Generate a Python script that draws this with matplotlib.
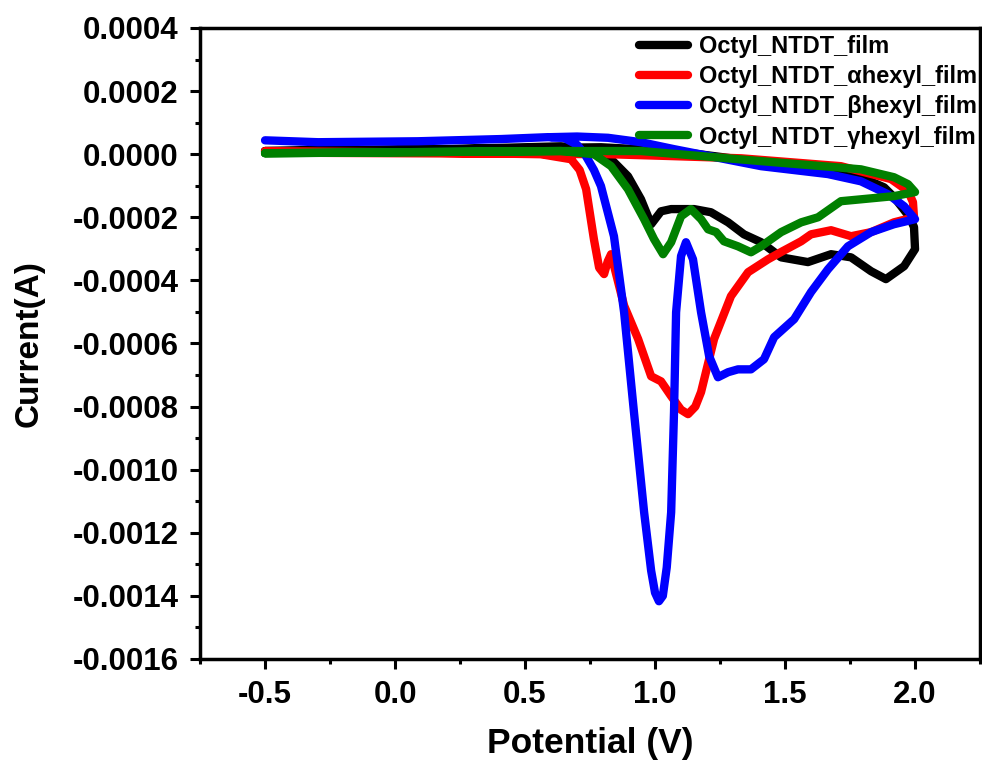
import matplotlib
matplotlib.use('Agg')
import matplotlib.pyplot as plt
from matplotlib.ticker import MultipleLocator, FormatStrFormatter

# CV loops: forward scan -0.5 -> 2.0 (with reduction peaks), then return branch back
E_black = [-0.5, 0.215, 0.638, 0.754, 0.831, 0.896, 0.946, 0.985, 1.023, 1.062, 1.15, 1.215,
           1.281, 1.342, 1.408, 1.485, 1.588, 1.677, 1.754, 1.831, 1.888, 1.958, 2.0, 1.996,
           1.977, 1.919, 1.881, 1.792, 1.665, 1.408, 1.073, 0.792, 0.2, -0.5]
I_black = [0.00001, 0.000016, 0.000025, 0.000016, -0.000016, -0.00007, -0.000143, -0.000222,
           -0.000181, -0.000174, -0.000174, -0.000184, -0.000216, -0.000254, -0.000279,
           -0.000327, -0.000342, -0.000317, -0.000327, -0.000371, -0.000396, -0.000355,
           -0.000301, -0.000231, -0.000197, -0.000136, -0.000105, -0.000073, -0.000054,
           -0.000025, 0.00001, 0.000022, 0.000016, 0.00001]

E_alpha = [-0.5, 0.023, 0.56, 0.677, 0.71, 0.735, 0.765, 0.785, 0.804, 0.818, 0.831, 0.881,
           0.935, 0.985, 1.023, 1.062, 1.1, 1.127, 1.155, 1.177, 1.227, 1.292, 1.358, 1.435,
           1.485, 1.562, 1.6, 1.677, 1.754, 1.831, 1.919, 1.996, 1.992, 1.973, 1.908, 1.715,
           1.331, 1.062, 0.819, -0.5]
I_alpha = [0.00001, 0.000006, 0.0, -0.000016, -0.00005, -0.000111, -0.00027, -0.00036,
           -0.00038, -0.00034, -0.000317, -0.00048, -0.000586, -0.000704, -0.00072,
           -0.000767, -0.00081, -0.000824, -0.0008, -0.000754, -0.000586, -0.00045,
           -0.000374, -0.000333, -0.00031, -0.000276, -0.000254, -0.000241, -0.00026,
           -0.000247, -0.000216, -0.0002, -0.000152, -0.000117, -0.000079, -0.000038,
           -0.000013, -0.000006, 0.0, 0.000005]

E_beta = [-0.5, -0.296, 0.088, 0.408, 0.588, 0.65, 0.7, 0.73, 0.765, 0.792, 0.842, 0.881,
          0.919, 0.958, 0.985, 1.0, 1.015, 1.03, 1.045, 1.062, 1.073, 1.081, 1.1, 1.119,
          1.146, 1.177, 1.208, 1.242, 1.281, 1.319, 1.369, 1.419, 1.458, 1.535, 1.6, 1.665,
          1.742, 1.831, 1.919, 2.0, 1.958, 1.896, 1.792, 1.665, 1.408, 1.073, 0.946, 0.819,
          0.7, 0.6]
I_beta = [0.000044, 0.000038, 0.000041, 0.000048, 0.000054, 0.000052, 0.00003, 0.0,
          -0.00005, -0.000101, -0.00026, -0.000501, -0.000818, -0.001135, -0.00132,
          -0.00139, -0.001417, -0.0014, -0.00131, -0.001135, -0.000818, -0.000501, -0.000323,
          -0.000279, -0.000333, -0.000501, -0.00064, -0.000707, -0.000691, -0.000682,
          -0.000682, -0.00065, -0.00058, -0.000523, -0.000437, -0.000365, -0.000292,
          -0.000247, -0.000222, -0.000206, -0.000165, -0.000127, -0.000086, -0.000063,
          -0.000038, 0.000016, 0.000038, 0.000052, 0.000056, 0.000054]

E_gamma = [-0.5, 0.638, 0.765, 0.831, 0.896, 0.958, 0.996, 1.031, 1.062, 1.1, 1.138, 1.177,
           1.204, 1.235, 1.265, 1.319, 1.369, 1.408, 1.485, 1.562, 1.627, 1.715, 1.792,
           1.919, 2.0, 1.973, 1.919, 1.792, 1.408, 0.946, 0.638, -0.5]
I_gamma = [0.000003, 0.00001, 0.0, -0.000038, -0.000111, -0.000206, -0.000269, -0.000317,
           -0.000279, -0.000197, -0.000174, -0.000206, -0.000238, -0.000247, -0.000276,
           -0.000292, -0.000311, -0.000292, -0.000247, -0.000216, -0.0002, -0.000149,
           -0.000143, -0.000133, -0.00012, -0.000095, -0.000073, -0.000048, -0.000022,
           0.00001, 0.00001, 0.000003]

labels = ['Octyl_NTDT_film', 'Octyl_NTDT_\u03b1hexyl_film',
          'Octyl_NTDT_\u03b2hexyl_film', 'Octyl_NTDT_\u03b3hexyl_film']
colors = ['black', 'red', 'blue', 'green']

plt.rcParams['font.family'] = ['Liberation Sans', 'DejaVu Sans']
plt.rcParams['font.weight'] = 'bold'
plt.rcParams['axes.unicode_minus'] = False

fig = plt.figure(figsize=(9.82, 7.65), dpi=100)
ax = fig.add_axes([0.2037, 0.1386, 0.7943, 0.8248])

for E, I, lab, col in zip([E_black, E_alpha, E_beta, E_gamma],
                          [I_black, I_alpha, I_beta, I_gamma], labels, colors):
    ax.plot(E, I, color=col, lw=6, label=lab, solid_joinstyle='round', solid_capstyle='round')

ax.set_xlim(-0.75, 2.25)
ax.set_ylim(-0.0016, 0.0004)
ax.xaxis.set_major_locator(MultipleLocator(0.5))
ax.xaxis.set_minor_locator(MultipleLocator(0.25))
ax.yaxis.set_major_locator(MultipleLocator(0.0002))
ax.yaxis.set_minor_locator(MultipleLocator(0.0001))
ax.xaxis.set_major_formatter(FormatStrFormatter('%.1f'))
ax.yaxis.set_major_formatter(FormatStrFormatter('%.4f'))

for s in ax.spines.values():
    s.set_linewidth(2.5)
ax.tick_params(which='both', direction='out', width=2.2, labelsize=22.5, top=False, right=False)
ax.tick_params(which='major', length=7.5, pad=8)
ax.tick_params(which='minor', length=3.8)

ax.set_xlabel('Potential (V)', fontsize=25.5, fontweight='bold', labelpad=12)
ax.set_ylabel('Current(A)', fontsize=24, fontweight='bold', labelpad=20)

leg = ax.legend(loc='upper right', bbox_to_anchor=(1.013, 1.009), frameon=False,
                handlelength=2.1, labelspacing=0.3, borderaxespad=0.15, handletextpad=0.45,
                prop={'weight': 'bold', 'size': 17})

fig.savefig('out.png', dpi=100)
